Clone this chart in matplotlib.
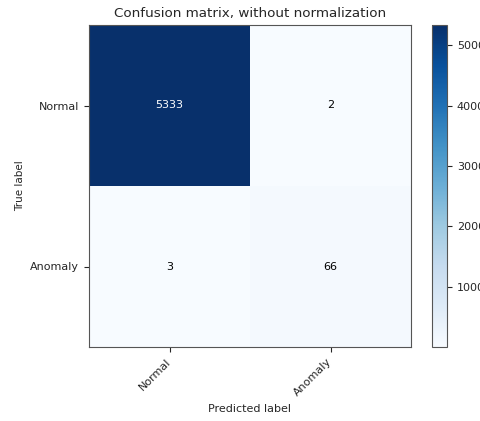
import matplotlib
matplotlib.use("Agg")
import matplotlib.pyplot as plt
import numpy as np

classes = ["Normal", "Anomaly"]
cm = np.array([[5333, 2],
               [3, 66]])

plt.rcParams['text.color'] = '#262626'
plt.rcParams['axes.labelcolor'] = '#262626'
plt.rcParams['xtick.color'] = '#262626'
plt.rcParams['ytick.color'] = '#262626'
plt.rcParams['axes.edgecolor'] = '#555555'

fig = plt.figure(figsize=(4.81, 4.21), dpi=100)
ax = fig.add_axes([89/481, 74/421, 322/481, 322/421])
cax = fig.add_axes([432/481, 74/421, 15/481, 322/421])

im = ax.imshow(cm, interpolation='nearest', cmap=plt.cm.Blues, aspect='auto')
ax.set_title("Confusion matrix, without normalization", fontsize=9.7)
cb = fig.colorbar(im, cax=cax)
cb.set_ticks([1000, 2000, 3000, 4000, 5000])
cb.ax.tick_params(labelsize=8)
cb.outline.set_edgecolor('#555555')

ticks = np.arange(len(classes))
ax.set_xticks(ticks)
ax.set_xticklabels(classes, rotation=45, ha='right', va='center',
                   rotation_mode='anchor', fontsize=8)
ax.tick_params(axis='x', pad=6)
ax.set_yticks(ticks)
ax.set_yticklabels(classes, fontsize=8)

thresh = cm.max() / 2.
for i in range(cm.shape[0]):
    for j in range(cm.shape[1]):
        ax.text(j, i, format(cm[i, j], 'd'), ha="center", va="center", fontsize=8,
                color="white" if cm[i, j] > thresh else "black")

ax.set_ylabel('True label', fontsize=7.5)
ax.set_xlabel('Predicted label', fontsize=8)

fig.savefig("out.png", dpi=100)
